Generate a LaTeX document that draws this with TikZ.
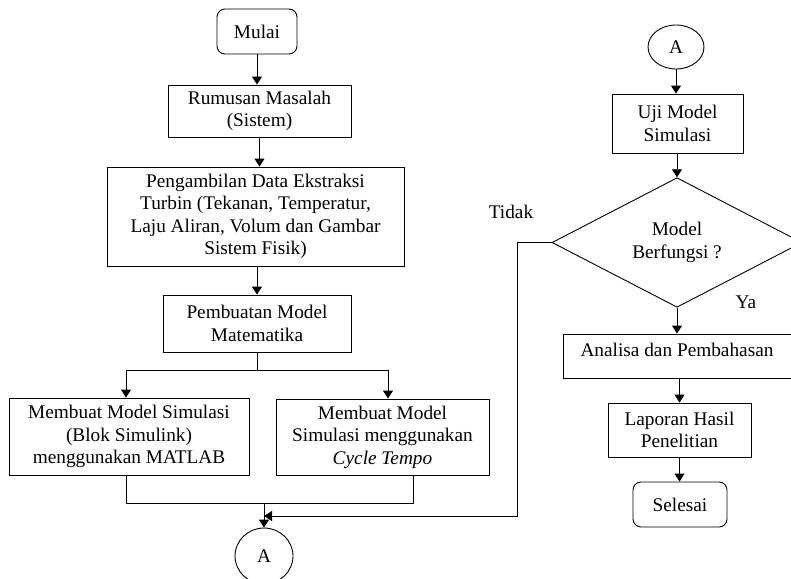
\documentclass[tikz,border=0pt]{standalone}
\usepackage{fontspec}
\setmainfont{Liberation Serif}
\usetikzlibrary{shapes.geometric,arrows.meta}
\begin{document}
\begin{tikzpicture}[x=1pt,y=-1pt,
  every node/.style={font=\fontsize{19.3}{22.5}\selectfont, align=center, inner sep=2pt},
  proc/.style={draw, line width=0.9pt},
  term/.style={draw, line width=0.9pt, rounded corners=8pt},
  conn/.style={draw, line width=0.9pt, ellipse, inner sep=0pt},
  dec/.style={draw, line width=0.9pt, diamond, inner sep=0pt, minimum width=250pt, minimum height=129pt},
  arr/.style={line width=0.9pt, -{Triangle[length=8pt,width=10pt]}},
  ln/.style={line width=0.9pt}]
\clip (0,0) rectangle (791,578);
\fill[white] (0,0) rectangle (791,578);
% left column
\node[term, minimum width=80pt, minimum height=45pt] (mulai) at (257,31.5) {Mulai};
\node[proc, minimum width=183pt, minimum height=52pt] (rum) at (259.5,111) {Rumusan Masalah\\(Sistem)};
\node[proc, minimum width=297pt, minimum height=99pt] (peng) at (255.5,216.5) {Pengambilan Data Ekstraksi\\Turbin (Tekanan, Temperatur,\\Laju Aliran, Volum dan Gambar\\Sistem Fisik)};
\node[proc, minimum width=188pt, minimum height=57pt] (pm) at (257,323.5) {Pembuatan Model\\Matematika};
\node[proc, minimum width=240pt, minimum height=77pt] (mat) at (129,436.5) {Membuat Model Simulasi\\(Blok Simulink)\\menggunakan MATLAB};
\node[proc, minimum width=213pt, minimum height=76pt] (cyc) at (382.5,437) {Membuat Model\\Simulasi menggunakan\\\textit{Cycle Tempo}};
\node[conn, minimum width=58pt, minimum height=56pt] (abot) at (264,556) {A};
% right column
\node[conn, minimum width=56pt, minimum height=44pt] (atop) at (676,47) {A};
\node[proc, minimum width=131pt, minimum height=59pt] (uji) at (677.5,123.5) {Uji Model\\Simulasi};
\node[dec] (dia) at (677,242.5) {Model\\Berfungsi ?};
\node[proc, minimum width=228pt, minimum height=44pt] (ana) at (677,356) {\raisebox{6pt}[\height][\depth]{Analisa dan Pembahasan}};
\node[proc, minimum width=143pt, minimum height=54pt] (lap) at (679.5,430) {Laporan Hasil\\Penelitian};
\node[term, minimum width=94pt, minimum height=45pt] (sel) at (680,504.5) {Selesai};
\node (tidak) at (511,212) {Tidak};
\node (ya) at (746,302) {Ya};
% connectors left
\draw[arr] (mulai.south) -- (mulai.south |- rum.north);
\draw[arr] (rum.south) -- (rum.south |- peng.north);
\draw[arr] (peng.south -| pm.north) -- (pm.north);
\coordinate (br) at (257,370);
\draw[ln] (pm.south) -- (br);
\draw[arr] (br) -| ([xshift=-3pt]mat.north);
\draw[arr] (br) -| ([xshift=5.5pt]cyc.north);
\coordinate (jn) at (264,503);
\draw[ln] ([xshift=-3pt]mat.south) |- (jn);
\draw[ln] ([xshift=30.5pt]cyc.south) |- (jn);
\draw[arr] (jn) -- (abot.north);
% connectors right
\draw[arr] (atop.south) -- (atop.south |- uji.north);
\draw[arr] (uji.south -| dia.north) -- (dia.north);
\draw[arr] (dia.south) -- (dia.south |- ana.north);
\draw[arr] (ana.south -| lap.north) -- (lap.north);
\draw[arr] (lap.south) -- (lap.south |- sel.north);
\coordinate (fbc) at (517,242.5);
\coordinate (fb) at (264,516);
\draw[arr] (dia.west) -- (fbc) |- (fb);
\end{tikzpicture}
\end{document}
